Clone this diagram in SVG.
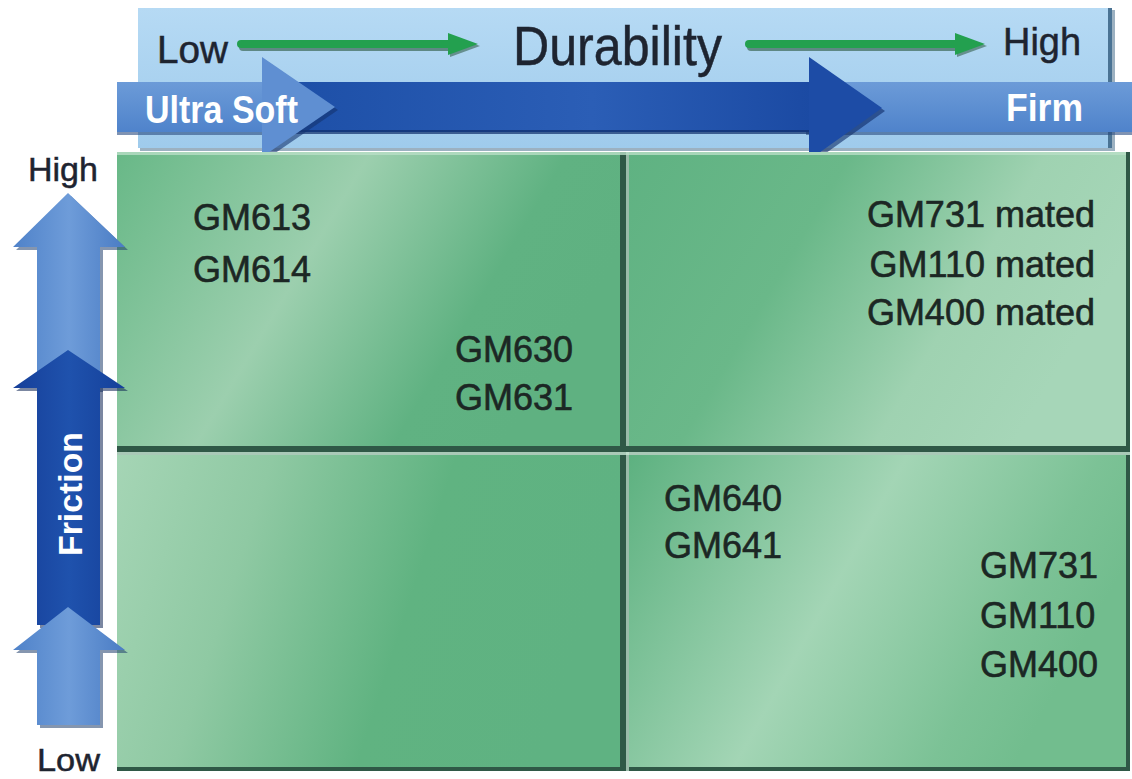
<svg xmlns="http://www.w3.org/2000/svg" width="1132" height="779" viewBox="0 0 1132 779">
<defs>
<linearGradient id="panel" x1="0" y1="0" x2="0" y2="1"><stop offset="0" stop-color="#b6daf4"/><stop offset="1" stop-color="#9fcbec"/></linearGradient>
<linearGradient id="lightBand" x1="0" y1="0" x2="0" y2="1"><stop offset="0" stop-color="#6c9bd8"/><stop offset="1" stop-color="#4f83cb"/></linearGradient>
<linearGradient id="darkBand" x1="0" y1="0" x2="1" y2="0"><stop offset="0" stop-color="#1c4ea6"/><stop offset="0.6" stop-color="#2b5eb6"/><stop offset="1" stop-color="#1b4aa3"/></linearGradient>
<linearGradient id="lightV" x1="0" y1="0" x2="1" y2="0"><stop offset="0" stop-color="#4f82c9"/><stop offset="0.5" stop-color="#6e9cd9"/><stop offset="1" stop-color="#4a7cc4"/></linearGradient>
<linearGradient id="darkV" x1="0" y1="0" x2="1" y2="0"><stop offset="0" stop-color="#163f99"/><stop offset="0.5" stop-color="#1f52ad"/><stop offset="1" stop-color="#15409a"/></linearGradient>
<linearGradient id="gTL" x1="0" y1="0" x2="1" y2="0.35"><stop offset="0" stop-color="#68b887"/><stop offset="0.45" stop-color="#9ccfae"/><stop offset="0.8" stop-color="#60b282"/><stop offset="1" stop-color="#5fb181"/></linearGradient>
<linearGradient id="gTR" x1="0" y1="0" x2="1" y2="0.35"><stop offset="0" stop-color="#5fb282"/><stop offset="0.4" stop-color="#6ab889"/><stop offset="0.75" stop-color="#9fd2b1"/><stop offset="1" stop-color="#a6d6b8"/></linearGradient>
<linearGradient id="gBL" x1="0" y1="0" x2="1" y2="0.2"><stop offset="0" stop-color="#a5d5b5"/><stop offset="0.3" stop-color="#8fc9a3"/><stop offset="0.65" stop-color="#60b381"/><stop offset="1" stop-color="#5fb282"/></linearGradient>
<linearGradient id="gBR" x1="0" y1="0" x2="1" y2="0.35"><stop offset="0" stop-color="#5db180"/><stop offset="0.5" stop-color="#a3d5b5"/><stop offset="0.85" stop-color="#7cc296"/><stop offset="1" stop-color="#72bd8e"/></linearGradient>
<style>
.lbl{font-family:"Liberation Sans",Arial,sans-serif;font-size:36px;fill:#1c2724;stroke:#1c2724;stroke-width:0.6}
.axis{font-family:"Liberation Sans",Arial,sans-serif;fill:#1e2430;stroke:#1e2430;stroke-width:0.5}
.wht{font-family:"Liberation Sans",Arial,sans-serif;font-weight:bold;fill:#ffffff}
.divd{fill:#2f5846}
.divl{fill:#c8e6d3}
.garrow{stroke:#23a04f;stroke-width:8;stroke-linecap:round}
.gshadow{stroke:#1d4a2c;stroke-width:8;stroke-linecap:round;opacity:0.55}
</style>
</defs>

<rect width="1132" height="779" fill="#ffffff"/>

<!-- top durability panel -->
<g id="durability-panel">
<rect x="140" y="10" width="975" height="141" fill="#5a7d98" opacity="0.6"/>
<rect x="138" y="8" width="974" height="140" fill="url(#panel)"/>
<rect x="1108" y="8" width="4" height="140" fill="#4a7394"/>
<text class="axis" x="157" y="63" font-size="38" textLength="71" lengthAdjust="spacingAndGlyphs">Low</text>
<text class="axis" x="513" y="65" font-size="56" textLength="209" lengthAdjust="spacingAndGlyphs">Durability</text>
<text class="axis" x="1003" y="55" font-size="38" textLength="78" lengthAdjust="spacingAndGlyphs">High</text>
</g>

<!-- hardness band -->
<g id="hardness-band">
<rect x="806" y="84" width="326" height="51" fill="#2a4b80" opacity="0.6"/>
<rect x="806" y="82" width="326" height="50" fill="url(#lightBand)"/>
<rect x="117" y="84" width="150" height="51" fill="#2a4b80" opacity="0.6"/>
<rect x="117" y="82" width="150" height="50" fill="url(#lightBand)"/>
<rect x="262" y="82" width="550" height="50" fill="url(#darkBand)"/>
<rect x="262" y="130" width="550" height="4" fill="#0f2d6a" opacity="0.7"/>
<polygon points="812,60 885,111 812,163" fill="#0d2a66" opacity="0.6"/>
<polygon points="809,57 882,108 809,160" fill="#1d4ca6"/>
<polygon points="265,60 338,110 265,160" fill="#14336f" opacity="0.6"/>
<polygon points="262,57 335,107 262,157" fill="#5f8fd2"/>
<text class="wht" x="145" y="123" font-size="38" textLength="153" lengthAdjust="spacingAndGlyphs">Ultra Soft</text>
<text class="wht" x="1006" y="121" font-size="38" textLength="77" lengthAdjust="spacingAndGlyphs">Firm</text>
</g>

<!-- quadrant grid -->
<g id="grid">
<rect x="117" y="152" width="1013" height="619" fill="#2f5846"/>
<rect id="q-top-left" x="117" y="152" width="503" height="294" fill="url(#gTL)"/>
<rect id="q-top-right" x="629" y="152" width="497" height="294" fill="url(#gTR)"/>
<rect id="q-bottom-left" x="117" y="455" width="503" height="312" fill="url(#gBL)"/>
<rect id="q-bottom-right" x="629" y="455" width="497" height="312" fill="url(#gBR)"/>
<rect class="divd" x="620" y="152" width="6" height="619"/>
<rect class="divl" x="626" y="152" width="3" height="619" opacity="0.7"/>
<rect class="divd" x="117" y="446" width="1013" height="6"/>
<rect class="divl" x="117" y="452" width="1013" height="3" opacity="0.8"/>
<rect x="117" y="152" width="1009" height="3" fill="#b9dfc7" opacity="0.8"/>
</g>

<g id="tl-labels">
<text class="lbl" x="193" y="230">GM613</text>
<text class="lbl" x="193" y="282">GM614</text>
<text class="lbl" x="455" y="362">GM630</text>
<text class="lbl" x="455" y="410">GM631</text>
</g>
<g id="tr-labels">
<text class="lbl" x="1095" y="227" text-anchor="end">GM731 mated</text>
<text class="lbl" x="1095" y="277" text-anchor="end">GM110 mated</text>
<text class="lbl" x="1095" y="325" text-anchor="end">GM400 mated</text>
</g>
<g id="br-labels">
<text class="lbl" x="664" y="511">GM640</text>
<text class="lbl" x="664" y="558">GM641</text>
<text class="lbl" x="980" y="578">GM731</text>
<text class="lbl" x="980" y="628">GM110</text>
<text class="lbl" x="980" y="677">GM400</text>
</g>

<!-- friction axis -->
<g id="friction-axis">
<text class="axis" x="28" y="181" font-size="34">High</text>
<text class="axis" x="37" y="771" font-size="32" textLength="63" lengthAdjust="spacingAndGlyphs">Low</text>
<!-- upper light arrow -->
<polygon points="40,250 16,250 71,196 128,250 103,250 103,392 40,392" fill="#21406e" opacity="0.55"/>
<polygon points="37,247 13,247 68,193 125,247 100,247 100,390 37,390" fill="url(#lightV)"/>
<!-- dark arrow -->
<polygon points="40,391 16,391 71,353 128,391 103,391 103,628 40,628" fill="#0e2454" opacity="0.55"/>
<polygon points="37,388 13,388 68,350 125,388 100,388 100,625 37,625" fill="url(#darkV)"/>
<!-- lower light arrow -->
<polygon points="40,653 16,653 71,610 128,653 103,653 103,728 40,728" fill="#21406e" opacity="0.55"/>
<polygon points="37,650 13,650 68,607 125,650 100,650 100,725 37,725" fill="url(#lightV)"/>
<text class="wht" transform="translate(82,494) rotate(-90)" text-anchor="middle" font-size="34" textLength="124" lengthAdjust="spacingAndGlyphs">Friction</text>
</g>

<!-- durability direction arrows -->
<g id="connectors">
<line class="gshadow" x1="243" y1="47" x2="452" y2="47"/>
<line class="garrow" x1="241" y1="44" x2="452" y2="44"/>
<polygon points="450,35 480,46 450,57" fill="#1d4a2c" opacity="0.5"/>
<polygon points="448,33 478,44 448,55" fill="#23a04f"/>
<line class="gshadow" x1="751" y1="47" x2="958" y2="47"/>
<line class="garrow" x1="749" y1="44" x2="958" y2="44"/>
<polygon points="957,35 987,46 957,57" fill="#1d4a2c" opacity="0.5"/>
<polygon points="955,33 985,44 955,55" fill="#23a04f"/>
</g>
</svg>
